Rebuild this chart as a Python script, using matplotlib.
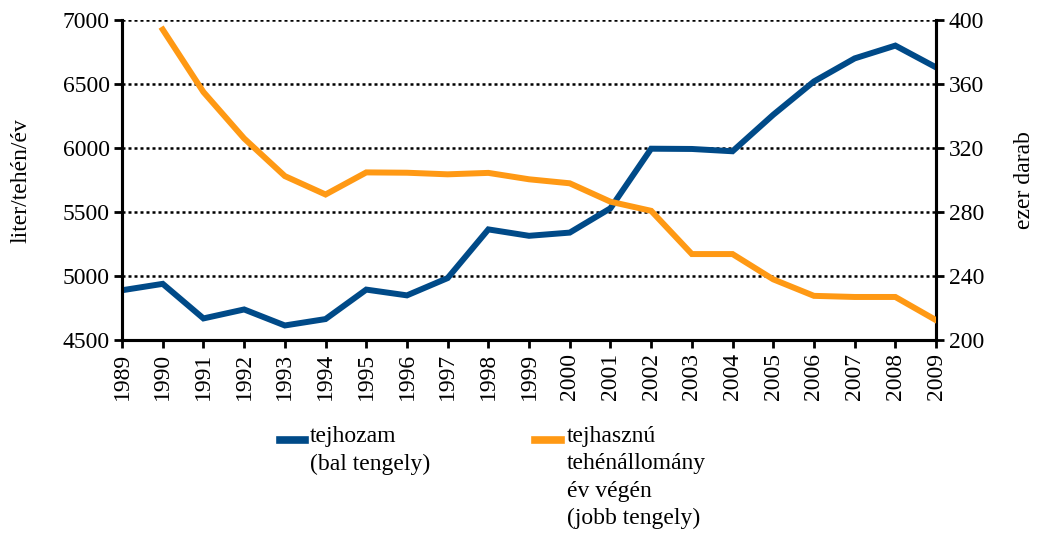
import matplotlib

matplotlib.use("Agg")
import matplotlib.pyplot as plt
from matplotlib.lines import Line2D

years = list(range(1989, 2010))
tejhozam = [4890, 4940, 4670, 4740, 4615, 4665, 4895, 4850, 4985, 5365,
            5315, 5340, 5530, 5995, 5993, 5975, 6260, 6520, 6700, 6800, 6630]
allomany_years = list(range(1990, 2010))
allomany = [394, 355, 326, 302.5, 291, 304.8, 304.6, 303.6, 304.5, 300.5,
            298, 286.5, 280.8, 253.8, 253.8, 238, 227.7, 227, 227, 212.5]

left_ticks = [4500, 5000, 5500, 6000, 6500, 7000]
right_ticks = [200, 240, 280, 320, 360, 400]

BLUE = "#004a88"
ORANGE = "#ff9914"
FS = 17

plt.rcParams["font.family"] = ["Liberation Serif", "DejaVu Serif"]
plt.rcParams["font.size"] = FS

fig = plt.figure(figsize=(10.44, 5.4), dpi=100)
ax = fig.add_axes([0.1169, 0.370, 0.7797, 0.593])
ax2 = ax.twinx()

ax.plot(years, tejhozam, color=BLUE, linewidth=4.3, solid_joinstyle="miter", zorder=3)
ax2.plot(allomany_years, allomany, color=ORANGE, linewidth=4.3, solid_joinstyle="miter", zorder=3)

ax.set_xlim(1989, 2009)
ax.set_ylim(4500, 7000)
ax2.set_ylim(200, 400)
ax.set_yticks(left_ticks)
ax2.set_yticks(right_ticks)
ax.set_xticks(years)
ax.set_xticklabels([str(y) for y in years], rotation=90)

for g in left_ticks[1:]:
    ax.axhline(g, color="black", linestyle=(0, (1.2, 1.2)), linewidth=1.8, zorder=1)

for a in (ax, ax2):
    for s in a.spines.values():
        s.set_linewidth(2.2)
    a.spines["top"].set_visible(False)
    a.tick_params(direction="out", length=6, width=2, labelsize=FS, pad=3)

ax.set_ylabel("liter/tehén/év", labelpad=22)
ax2.set_ylabel("ezer darab", labelpad=22)

# legend, drawn by hand so each key sits on the first text line
fig.add_artist(Line2D([280 / 1044, 305 / 1044], [1 - 440 / 540] * 2,
                      color=BLUE, linewidth=5.5))
fig.text(310 / 1044, 1 - 426 / 540, "tejhozam\n(bal tengely)",
         va="top", ha="left", fontsize=FS, linespacing=1.4)
fig.add_artist(Line2D([535 / 1044, 561 / 1044], [1 - 440 / 540] * 2,
                      color=ORANGE, linewidth=5.5))
fig.text(567 / 1044, 1 - 426 / 540, "tejhasznú\ntehénállomány\név végén\n(jobb tengely)",
         va="top", ha="left", fontsize=FS, linespacing=1.4)

fig.savefig("out.png", dpi=100)
